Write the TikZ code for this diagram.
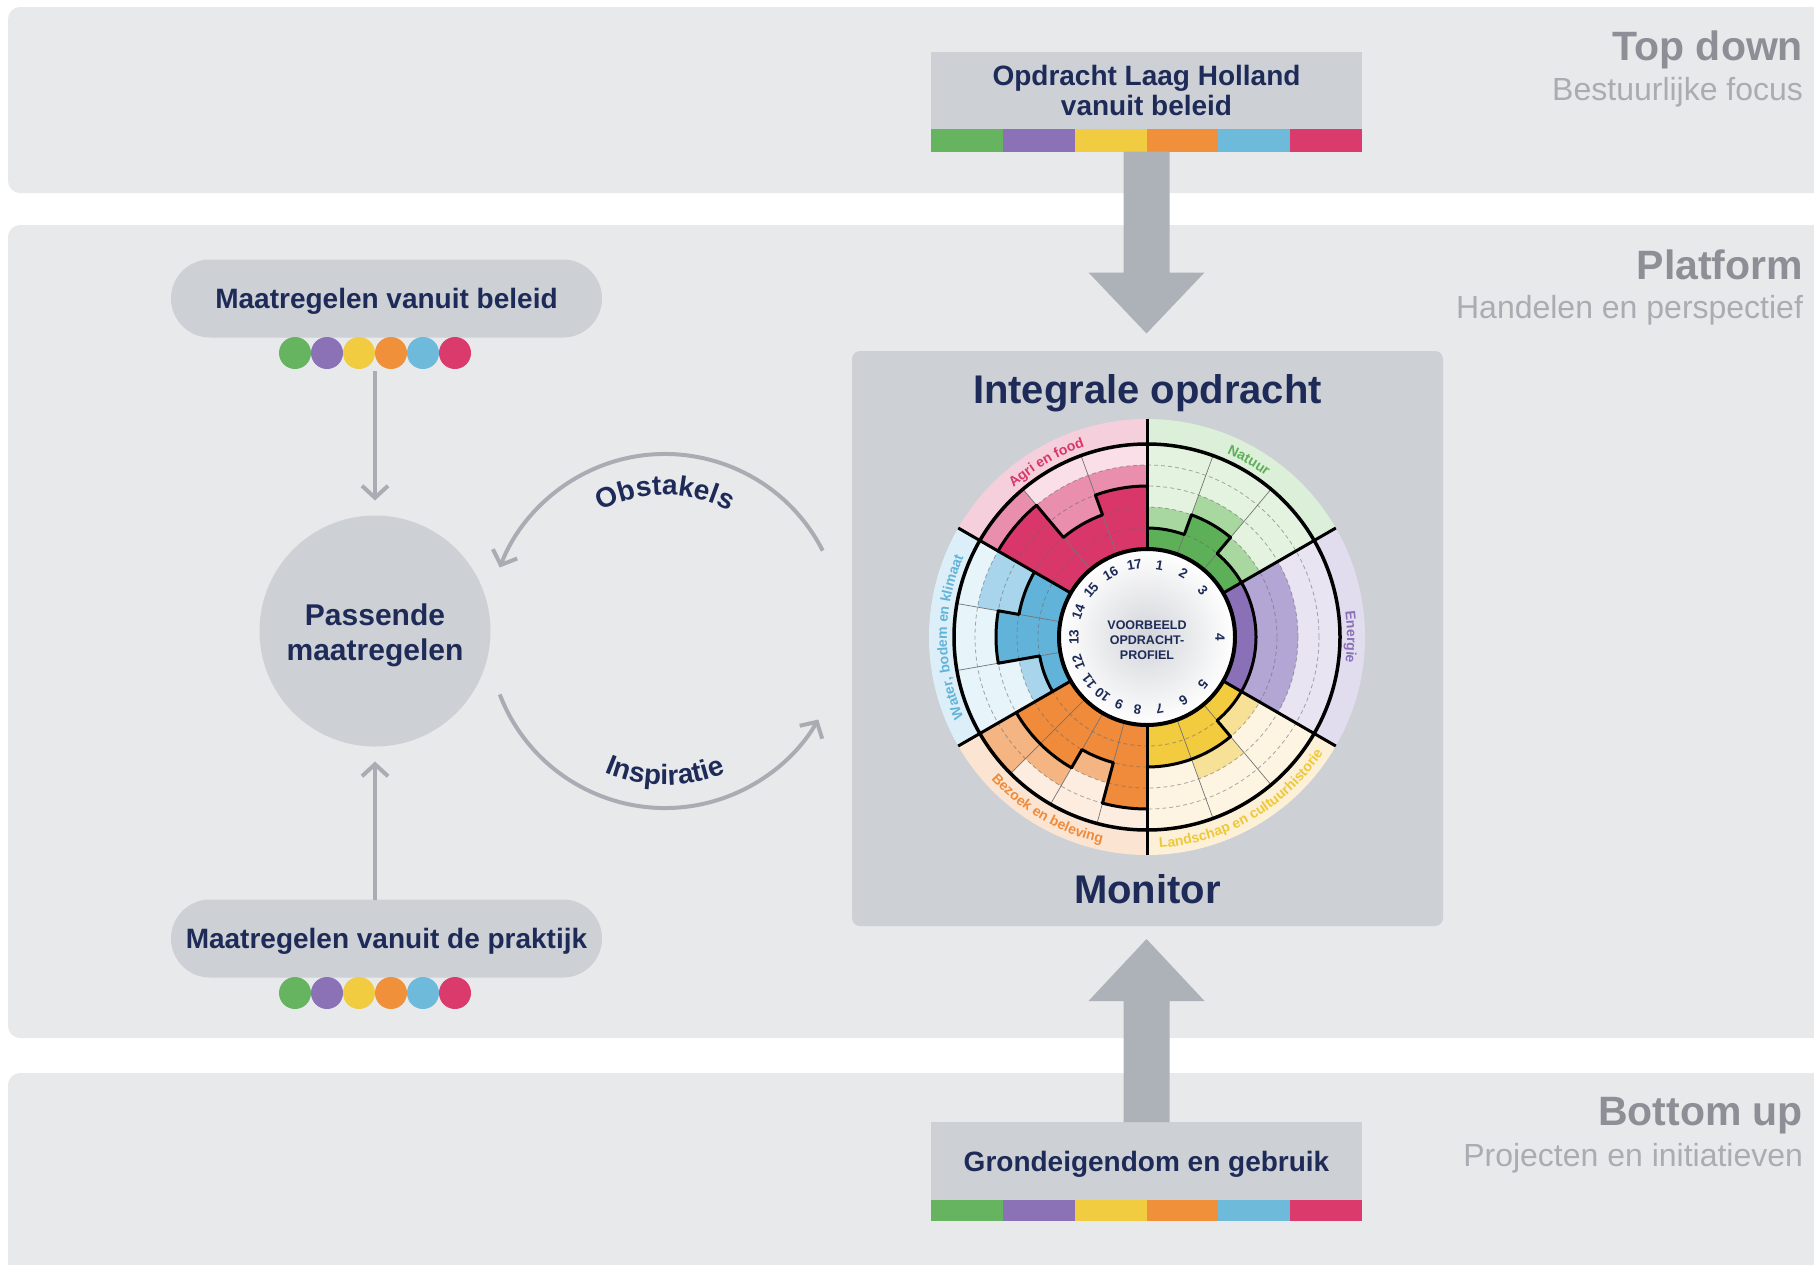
\documentclass[tikz,border=0pt]{standalone}
\usepackage{fontspec}
\setmainfont{Liberation Sans}
\usetikzlibrary{arrows.meta,decorations.text,calc}
\definecolor{band}{HTML}{E8E9EB}
\definecolor{boxg}{HTML}{CDD0D4}
\definecolor{navy}{HTML}{1E2B58}
\definecolor{labA}{HTML}{8C9096}
\definecolor{labB}{HTML}{A9ADB2}
\definecolor{bigar}{HTML}{ADB1B8}
\definecolor{thinar}{HTML}{A9ADB3}
\definecolor{cg}{HTML}{66B360}
\definecolor{cp}{HTML}{8B71B5}
\definecolor{cy}{HTML}{F2CC40}
\definecolor{co}{HTML}{F0903A}
\definecolor{cb}{HTML}{6DBADB}
\definecolor{cr}{HTML}{DB3B6C}
\definecolor{natd}{HTML}{5DAF58}\definecolor{natm}{HTML}{A8D7A0}\definecolor{natbg}{HTML}{E4F3E0}\definecolor{natband}{HTML}{DCEFD8}
\definecolor{ened}{HTML}{8A70B6}\definecolor{enem}{HTML}{B4A6D4}\definecolor{enebg}{HTML}{E8E4F2}\definecolor{eneband}{HTML}{E1DDEE}
\definecolor{land}{HTML}{F3CB3E}\definecolor{lanm}{HTML}{F7E196}\definecolor{lanbg}{HTML}{FDF5E2}\definecolor{lanband}{HTML}{FCF0D6}
\definecolor{bezd}{HTML}{EF8B3B}\definecolor{bezm}{HTML}{F5B583}\definecolor{bezbg}{HTML}{FCEDE0}\definecolor{bezband}{HTML}{FBE4D2}
\definecolor{watd}{HTML}{62B3D9}\definecolor{watm}{HTML}{A8D5EB}\definecolor{watbg}{HTML}{E7F4FA}\definecolor{watband}{HTML}{DCEFF8}
\definecolor{agrd}{HTML}{D9376A}\definecolor{agrm}{HTML}{E98EAD}\definecolor{agrbg}{HTML}{FADFE8}\definecolor{agrband}{HTML}{F5D0DC}
\definecolor{lanlab}{HTML}{EFC73A}
\definecolor{innerg}{HTML}{D3D5D9}
\newcommand\lblfont{\bfseries\fontsize{14}{14}\selectfont}
\newcommand\arcfont{\color{navy}\bfseries\fontsize{28}{28}\selectfont}
\begin{document}
\begin{tikzpicture}[x=1pt,y=1pt,
  every node/.style={inner sep=0pt,outer sep=0pt},
  boxtxt/.style={text=navy,font=\bfseries\fontsize{28}{30}\selectfont,align=center},
  graybox/.style={boxtxt,fill=boxg,minimum width=431pt,minimum height=77pt},
  pill/.style={boxtxt,fill=boxg,rounded corners=39pt,minimum width=431pt,minimum height=78pt,text depth=0pt},
  sidebig/.style={anchor=base east,text=labA,font=\bfseries\fontsize{41}{41}\selectfont},
  sidesmall/.style={anchor=base east,text=labB,font=\fontsize{32}{32}\selectfont},
  thinarrow/.style={draw=thinar,line width=4pt,-{Straight Barb[length=12pt,width=26pt]}},
  bigarrow/.style={fill=bigar},
  numst/.style={text=navy,font=\bfseries\fontsize{13.5}{13.5}\selectfont},
  outl/.style={draw=black,line width=3pt,line join=round},
  thinl/.style={draw=black!55,line width=0.7pt},
  dashl/.style={draw=black!60,line width=0.8pt,opacity=0.55,dash pattern=on 4pt off 3pt}]
\useasboundingbox (0,0) rectangle (1814,-1264);
\clip (0,0) rectangle (1814,-1264);
\fill[white] (0,0) rectangle (1814,-1264);
% bands
\fill[band,rounded corners=12pt] (8,-7) rectangle (1850,-193);
\fill[band,rounded corners=12pt] (8,-225) rectangle (1850,-1038);
\fill[band,rounded corners=12pt] (8,-1073) rectangle (1850,-1300);
% side labels
\node[sidebig] (ltd) at (1803,-60) {Top down};
\node[sidesmall] (ltds) at (1803,-100) {Bestuurlijke focus};
\node[sidebig] (lpf) at (1803,-279) {Platform};
\node[sidesmall] (lpfs) at (1803,-318) {Handelen en perspectief};
\node[sidebig] (lbu) at (1803,-1125) {Bottom up};
\node[sidesmall] (lbus) at (1803,-1166) {Projecten en initiatieven};
% top box
\node[graybox] (top) at (1146.5,-90) {Opdracht Laag Holland\\vanuit beleid};
\foreach \c [count=\i from 0] in {cg,cp,cy,co,cb,cr}
  \fill[\c] ([xshift={\i*71.833pt}]top.south west) rectangle ++(71.833,-23);
\coordinate (tstripe) at ([yshift=-23pt]top.south);
% bottom box
\node[graybox,minimum height=78pt,text depth=0pt] (bot) at (1146.5,-1161) {Grondeigendom en gebruik};
\foreach \c [count=\i from 0] in {cg,cp,cy,co,cb,cr}
  \fill[\c] ([xshift={\i*71.833pt}]bot.south west) rectangle ++(71.833,-21);
% main box
\node[fill=boxg,rounded corners=8pt,minimum width=591pt,minimum height=575pt] (main) at (1147.5,-638.5) {};
\node[anchor=base,text=navy,font=\bfseries\fontsize{40}{40}\selectfont] (title) at ([yshift=-52pt]main.north) {Integrale opdracht};
\node[anchor=base,text=navy,font=\bfseries\fontsize{40}{40}\selectfont] (monitor) at ([yshift=23pt]main.south) {Monitor};
% big arrows
\fill[bigarrow] ([xshift=-23pt]tstripe) -- ++(0,-121) -- ++(-35,0) -- ++(58,-61) -- ++(58,61) -- ++(-35,0) -- ++(0,121) -- cycle;
\fill[bigarrow] ([xshift=-23pt]bot.north) -- ++(0,121) -- ++(-35,0) -- ++(58,62) -- ++(58,-62) -- ++(-35,0) -- ++(0,-121) -- cycle;
% left side
\node[pill] (ptop) at (386.5,-298.5) {Maatregelen vanuit beleid};
\node[pill] (pbot) at (386.5,-938.5) {Maatregelen vanuit de praktijk};
\foreach \c [count=\i from 0] in {cg,cp,cy,co,cb,cr}{
  \fill[\c] (295+\i*32,-353) circle[radius=16];
  \fill[\c] (295+\i*32,-993) circle[radius=16];}
\node[circle,fill=boxg,minimum size=231pt] (pass) at (375,-631) {};
\node[text=navy,font=\bfseries\fontsize{30}{35}\selectfont,align=center,text depth=0pt] (passtxt) at (375,-632) {Passende\\maatregelen};
\coordinate (dtop) at (375,-371);
\draw[thinarrow,shorten >=15pt] (dtop) -- (pass.north);
\draw[thinarrow,shorten >=15pt] (pbot.north -| pass.south) -- (pass.south);
% cycle arrows
\coordinate (cyc) at (665,-631);
\draw[thinarrow] ([shift={(cyc)}]27:177) arc[start angle=27,end angle=159,radius=177];
\draw[thinarrow] ([shift={(cyc)}]-159:177) arc[start angle=-159,end angle=-30,radius=177];
\path[decorate,decoration={text along path,text align=center,text={|\arcfont|Obstakels}}]
  ([shift={(cyc)}]125:136) arc[start angle=125,end angle=55,radius=136];
\path[decorate,decoration={text along path,text align=center,text={|\arcfont|Inspiratie}}]
  ([shift={(cyc)}]235:154) arc[start angle=235,end angle=305,radius=154];
% chart
\begin{scope}[shift={(1147,-637)}]
\foreach \a/\b/\bandc/\bgc in {90/30/natband/natbg,30/-30/eneband/enebg,-30/-90/lanband/lanbg,-90/-150/bezband/bezbg,210/150/watband/watbg,150/90/agrband/agrbg}{
  \fill[\bandc] (0,0) -- (\a:218) arc[start angle=\a,end angle=\b,radius=218] -- cycle;
  \fill[\bgc] (0,0) -- (\a:193) arc[start angle=\a,end angle=\b,radius=193] -- cycle;}
\foreach \a/\b/\d/\m/\dc/\mc in {
  90/70/109/130/natd/natm,70/50/130/151/natd/natm,50/30/109/130/natd/natm,
  30/-30/109/151/ened/enem,
  -30/-50/109/130/land/lanm,-50/-70/130/151/land/lanm,-70/-90/130/130/land/lanm,
  -90/-105/172/172/bezd/bezm,-105/-120/130/151/bezd/bezm,-120/-135/151/172/bezd/bezm,-135/-150/151/193/bezd/bezm,
  210/190/109/130/watd/watm,190/170/151/151/watd/watm,170/150/130/172/watd/watm,
  150/130/172/193/agrd/agrm,130/110/130/172/agrd/agrm,110/90/151/172/agrd/agrm}{
  \fill[\mc] (0,0) -- (\a:\m) arc[start angle=\a,end angle=\b,radius=\m] -- cycle;
  \fill[\dc] (0,0) -- (\a:\d) arc[start angle=\a,end angle=\b,radius=\d] -- cycle;}
\foreach \r in {109,130,151,172} \draw[dashl] (0,0) circle[radius=\r];
\foreach \a in {70,50,-50,-70,-105,-120,-135,190,170,130,110} \draw[thinl] (\a:88) -- (\a:193);
% outlines of the dark bars
\draw[outl] (90:109) arc[start angle=90,end angle=70,radius=109] -- (70:130) arc[start angle=70,end angle=50,radius=130] -- (50:109) arc[start angle=50,end angle=30,radius=109];
\draw[outl] (30:109) arc[start angle=30,end angle=-30,radius=109];
\draw[outl] (-30:109) arc[start angle=-30,end angle=-50,radius=109] -- (-50:130) arc[start angle=-50,end angle=-90,radius=130];
\draw[outl] (-90:172) arc[start angle=-90,end angle=-105,radius=172] -- (-105:130) arc[start angle=-105,end angle=-120,radius=130] -- (-120:151) arc[start angle=-120,end angle=-150,radius=151];
\draw[outl] (210:109) arc[start angle=210,end angle=190,radius=109] -- (190:151) arc[start angle=190,end angle=170,radius=151] -- (170:130) arc[start angle=170,end angle=150,radius=130];
\draw[outl] (150:172) arc[start angle=150,end angle=130,radius=172] -- (130:130) arc[start angle=130,end angle=110,radius=130] -- (110:151) arc[start angle=110,end angle=90,radius=151];
\draw[line width=3.5pt] (0,0) circle[radius=193];
\foreach \a in {90,30,-30,-90,-150,150} \draw[line width=3pt] (\a:88) -- (\a:218);
\shade[inner color=innerg,outer color=white] (0,0) circle[radius=88];
\draw[line width=4pt] (0,0) circle[radius=88];
\foreach \a/\n in {80/1,60/2,40/3,0/4,-40/5,-60/6,-80/7,-97.5/8,-112.5/9,-127.5/10,-142.5/11,200/12,180/13,160/14,140/15,120/16,100/17}
  \node[numst,rotate=\a-90] (n\n) at (\a:73) {\n};
\node[text=navy,font=\bfseries\fontsize{12.5}{15}\selectfont,align=center] (vb) at (0,-3) {VOORBEELD\\OPDRACHT-\\PROFIEL};
\path[decorate,decoration={text along path,text align=center,text={|\color{natd}\lblfont|Natuur}}] (75:200) arc[start angle=75,end angle=45,radius=200];
\path[decorate,decoration={text along path,text align=center,text={|\color{ened}\lblfont|Energie}}] (22:200) arc[start angle=22,end angle=-22,radius=200];
\path[decorate,decoration={text along path,text align=center,text={|\color{lanlab}\lblfont|Landschap en cultuurhistorie}}] (-92:211) arc[start angle=-92,end angle=-28,radius=211];
\path[decorate,decoration={text along path,text align=center,text={|\color{bezd}\lblfont|Bezoek en beleving}}] (-152:211) arc[start angle=-152,end angle=-88,radius=211];
\path[decorate,decoration={text along path,text align=center,text={|\color{watd}\lblfont|Water, bodem en klimaat}}] (212:200) arc[start angle=212,end angle=148,radius=200];
\path[decorate,decoration={text along path,text align=center,text={|\color{agrd}\lblfont|Agri en food}}] (150:200) arc[start angle=150,end angle=90,radius=200];
\end{scope}
\end{tikzpicture}
\end{document}
